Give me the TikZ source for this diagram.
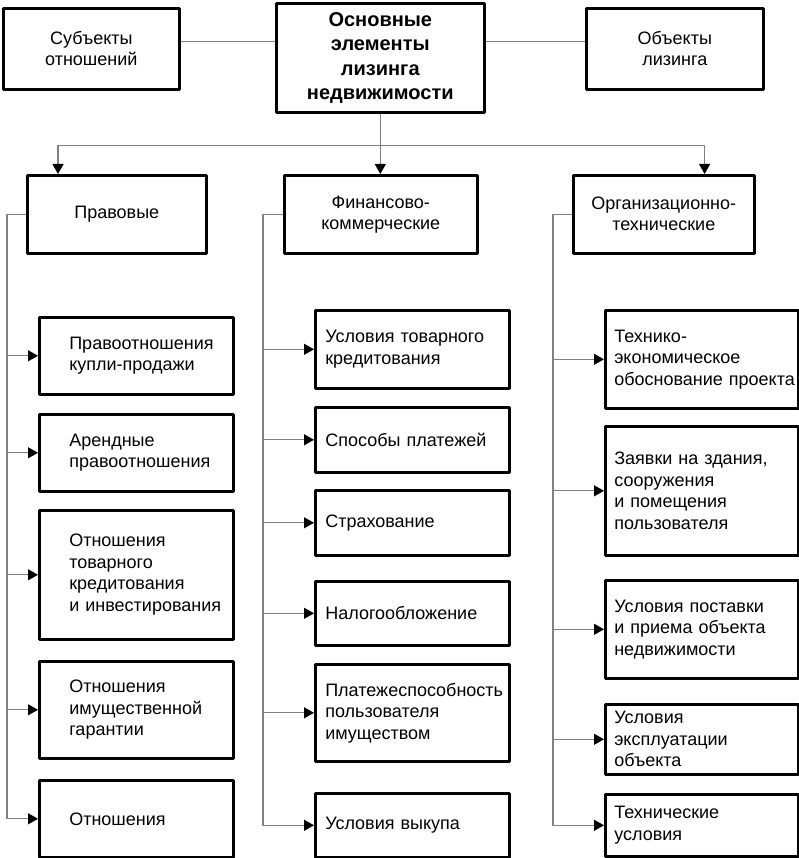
\documentclass[tikz,border=0pt]{standalone}
\usepackage{fontspec}
\setmainfont{Liberation Sans}
\usetikzlibrary{arrows.meta}
\begin{document}
\begin{tikzpicture}[x=1pt, y=-1pt, line join=round,
	box/.style={draw, line width=2.6pt, anchor=north west, inner sep=0pt,
		align=center, font=\fontsize{18}{21}\selectfont},
	leaf/.style={box, align=left, font=\fontsize{18}{21.5}\selectfont},
	lft/.style={leaf, text width=134pt, inner xsep=30pt, minimum width=194pt},
	mid/.style={leaf, text width=174pt, inner xsep=10pt, minimum width=194pt},
	rgt/.style={leaf, text width=175pt, inner xsep=9pt, minimum width=193pt},
	link/.style={gray, line width=1.1pt},
	arr/.style={link, -{Triangle[color=black, length=10pt, width=11pt]}}
	]
	\useasboundingbox (0,0) rectangle (799,858);
	% top row
	\node[box, minimum width=176pt, minimum height=81pt] (subj) at (2,7) {Субъекты\\отношений};
	\node[box, minimum width=208pt, minimum height=109pt,
		font=\fontsize{20}{24.5}\selectfont\bfseries] (main) at (275,2) {Основные\\элементы\\лизинга\\недвижимости};
	\node[box, minimum width=177pt, minimum height=81pt] (obj) at (585,7) {Объекты\\лизинга};
	\coordinate (s) at ([yshift=7.5pt]subj.east);
	\coordinate (o) at ([yshift=7.5pt]obj.west);
	\draw[link] (s) -- (main.west |- s);
	\draw[link] (main.east |- o) -- (o);
	% second row
	\node[box, minimum width=179pt, minimum height=78pt] (prav) at (26,174) {Правовые};
	\node[box, minimum width=193pt, minimum height=78pt] (fin) at (283,174) {Финансово-\\коммерческие};
	\node[box, minimum width=181pt, minimum height=78pt] (org) at (572,174) {Организационно-\\технические};
	\coordinate (bus) at ([yshift=-32pt]main.south);
	\draw[arr] (main.south) -- (main.south |- fin.north);
	\draw[arr] (bus) -| ([xshift=32pt]prav.north west);
	\draw[arr] (bus) -| ([xshift=-51pt]org.north east);
	% left column
	\node[lft, minimum height=77pt] (l1) at (38,316) {Правоотношения\\купли-продажи};
	\node[lft, minimum height=77pt] (l2) at (38,413) {Арендные\\правоотношения};
	\node[lft, minimum height=129pt] (l3) at (38,509) {Отношения\\товарного\\кредитования\\и~инвестирования};
	\node[lft, minimum height=97pt] (l4) at (38,660) {Отношения\\имущественной\\гарантии};
	\node[lft, minimum height=77pt] (l5) at (38,779) {Отношения};
	% middle column
	\node[mid, minimum height=78pt] (m1) at (314,309) {Условия~товарного\\кредитования};
	\node[mid, minimum height=65pt] (m2) at (314,406) {Способы~платежей};
	\node[mid, minimum height=65pt] (m3) at (314,489) {Страхование};
	\node[mid, minimum height=64pt] (m4) at (314,580) {Налогообложение};
	\node[mid, minimum height=97pt] (m5) at (314,663) {Платежеспособность\\пользователя\\имуществом};
	\node[mid, minimum height=64pt] (m6) at (314,792) {Условия~выкупа};
	% right column
	\node[rgt, minimum height=98pt] (r1) at (604,309) {Технико-\\экономическое\\обоснование~проекта};
	\node[rgt, minimum height=129pt] (r2) at (604,425) {Заявки~на~здания,\\сооружения\\и~помещения\\пользователя};
	\node[rgt, minimum height=98pt] (r3) at (604,579) {Условия~поставки\\и~приема~объекта\\недвижимости};
	\node[rgt, minimum height=70pt] (r4) at (604,703) {Условия\\эксплуатации\\объекта};
	\node[rgt, minimum height=62pt] (r5) at (604,793) {Технические\\условия};
	% side buses
	\coordinate (pl) at ([xshift=-19pt]prav.west);
	\coordinate (pm) at ([xshift=-20pt]fin.west);
	\coordinate (pr) at ([xshift=-19pt]org.west);
	\draw[arr] (prav.west) -- (pl) |- (l5.west);
	\draw[arr] (pl |- l1.west) -- (l1.west);
	\draw[arr] (pl |- l2.west) -- (l2.west);
	\draw[arr] (pl |- l3.west) -- (l3.west);
	\draw[arr] (pl |- l4.west) -- (l4.west);
	\draw[arr] (fin.west) -- (pm) |- (m6.west);
	\draw[arr] (pm |- m1.west) -- (m1.west);
	\draw[arr] (pm |- m2.west) -- (m2.west);
	\draw[arr] (pm |- m3.west) -- (m3.west);
	\draw[arr] (pm |- m4.west) -- (m4.west);
	\draw[arr] (pm |- m5.west) -- (m5.west);
	\draw[arr] (org.west) -- (pr) |- (r5.west);
	\draw[arr] (pr |- r1.west) -- (r1.west);
	\draw[arr] (pr |- r2.west) -- (r2.west);
	\draw[arr] (pr |- r3.west) -- (r3.west);
	\draw[arr] (pr |- r4.west) -- (r4.west);
\end{tikzpicture}
\end{document}
